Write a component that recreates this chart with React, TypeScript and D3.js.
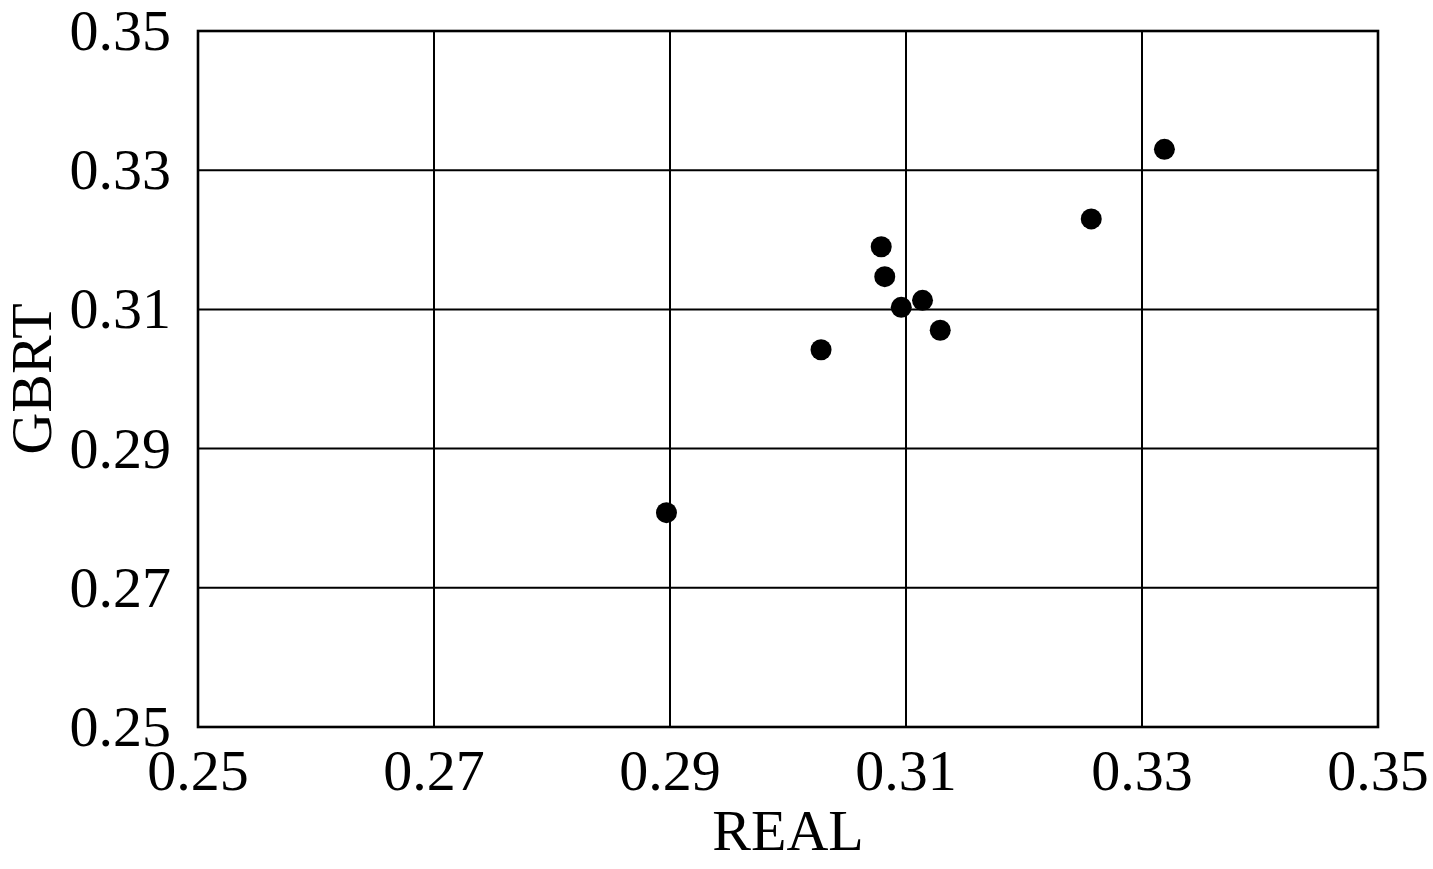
import React, { useEffect, useRef } from 'react';
import * as d3 from 'd3';

// values
const realValues = [0.2897, 0.3028, 0.3079, 0.3082, 0.3096, 0.3114, 0.3129, 0.3257, 0.3319];
const gbrtValues = [0.2808, 0.3042, 0.3190, 0.3147, 0.3103, 0.3113, 0.3070, 0.3230, 0.3330];
const tickValues = [0.25, 0.27, 0.29, 0.31, 0.33, 0.35];

const App = () => {
  const chartRef = useRef<SVGSVGElement | null>(null);

  useEffect(() => {
    const width = 1433;
    const height = 869;
    const margin = { top: 31, right: 55, bottom: 142, left: 198 };
    const font = '"Liberation Serif", "Times New Roman", serif';

    const svg = d3.select(chartRef.current);
    svg.selectAll('*').remove();
    svg.attr('width', width).attr('height', height);

    const x = d3.scaleLinear().domain([0.25, 0.35]).range([margin.left, width - margin.right]);
    const y = d3.scaleLinear().domain([0.25, 0.35]).range([height - margin.bottom, margin.top]);

    // grid lines
    svg.append('g')
      .selectAll('line.vgrid')
      .data(tickValues)
      .enter()
      .append('line')
      .attr('x1', d => x(d))
      .attr('x2', d => x(d))
      .attr('y1', y(0.25))
      .attr('y2', y(0.35))
      .attr('stroke', '#000')
      .attr('stroke-width', 2);

    svg.append('g')
      .selectAll('line.hgrid')
      .data(tickValues)
      .enter()
      .append('line')
      .attr('x1', x(0.25))
      .attr('x2', x(0.35))
      .attr('y1', d => y(d))
      .attr('y2', d => y(d))
      .attr('stroke', '#000')
      .attr('stroke-width', 2);

    // frame
    svg.append('rect')
      .attr('x', x(0.25))
      .attr('y', y(0.35))
      .attr('width', x(0.35) - x(0.25))
      .attr('height', y(0.25) - y(0.35))
      .attr('fill', 'none')
      .attr('stroke', '#000')
      .attr('stroke-width', 2.6);

    // tick labels
    svg.append('g')
      .selectAll('text')
      .data(tickValues)
      .enter()
      .append('text')
      .attr('x', d => x(d))
      .attr('y', y(0.25) + 63)
      .attr('text-anchor', 'middle')
      .style('font-family', font)
      .style('font-size', '58px')
      .text(d => d.toFixed(2));

    svg.append('g')
      .selectAll('text')
      .data(tickValues)
      .enter()
      .append('text')
      .attr('x', x(0.25) - 27)
      .attr('y', d => y(d) + 19)
      .attr('text-anchor', 'end')
      .style('font-family', font)
      .style('font-size', '58px')
      .text(d => d.toFixed(2));

    // axis titles
    svg.append('text')
      .attr('x', (x(0.25) + x(0.35)) / 2)
      .attr('y', 850)
      .attr('text-anchor', 'middle')
      .style('font-family', font)
      .style('font-size', '58px')
      .text('REAL');

    svg.append('text')
      .attr('transform', `translate(51,${(y(0.25) + y(0.35)) / 2}) rotate(-90)`)
      .attr('text-anchor', 'middle')
      .style('font-family', font)
      .style('font-size', '58px')
      .text('GBRT');

    // points
    svg.append('g')
      .selectAll('circle')
      .data(realValues.map((r, i) => ({ r, g: gbrtValues[i] })))
      .enter()
      .append('circle')
      .attr('cx', d => x(d.r))
      .attr('cy', d => y(d.g))
      .attr('r', 10.5)
      .attr('fill', '#000');
  }, []);

  return (
    <svg ref={chartRef} style={{ position: 'absolute', left: 0, top: 0, background: '#fff' }}></svg>
  );
};

export default App;
